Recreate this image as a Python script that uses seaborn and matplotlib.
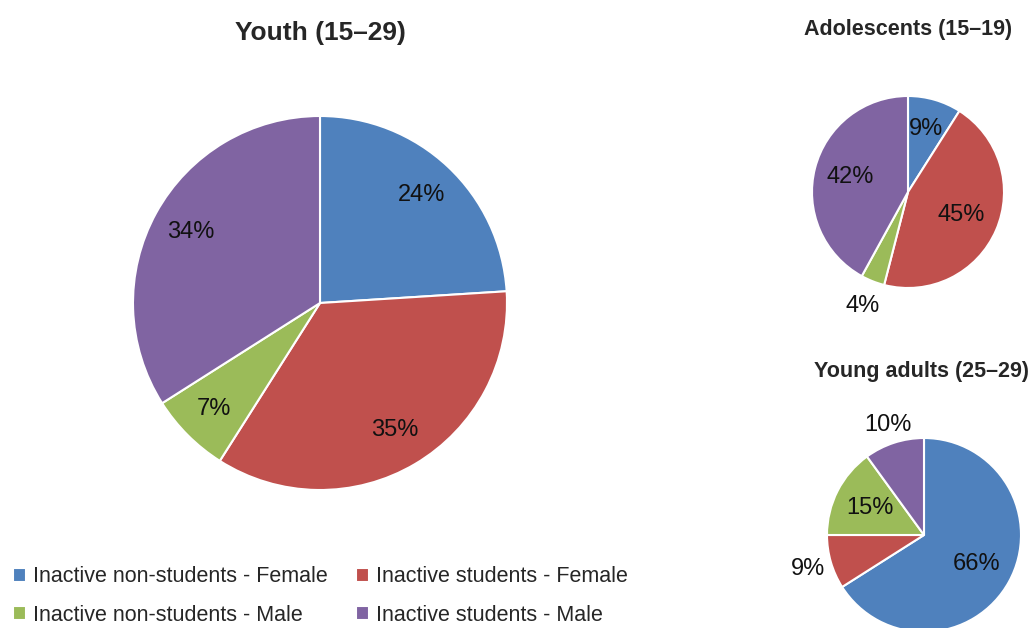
import matplotlib
matplotlib.use("Agg")
import matplotlib.pyplot as plt
import seaborn as sns
import numpy as np

###############################################################################
# DATA
###############################################################################
categories = [
    "Inactive non-students - Female",
    "Inactive students - Female",
    "Inactive non-students - Male",
    "Inactive students - Male",
]
youth = [24, 35, 7, 34]
adolescents = [9, 45, 4, 42]
young_adults = [66, 9, 15, 10]

###############################################################################
# STYLE
###############################################################################
sns.set_theme(style="white")
plt.rcParams["font.family"] = ["Liberation Sans Narrow", "Liberation Sans", "DejaVu Sans"]

colors = ["#4F81BD", "#C0504D", "#9BBB59", "#8064A2"]
W, H = 1035, 628

fig = plt.figure(figsize=(W / 100, H / 100), dpi=100)


def pie_axes(cx, cy, r):
    """Axes whose unit circle sits at pixel centre (cx, cy) with radius r."""
    ax = fig.add_axes([(cx - r) / W, (H - cy - r) / H, 2 * r / W, 2 * r / H])
    ax.axis("off")
    return ax


def draw_pie(ax, values, label_dist, fontsize):
    wedges, _ = ax.pie(values, colors=colors, startangle=90, counterclock=False,
                       radius=1, wedgeprops={"edgecolor": "white", "linewidth": 1.5})
    # pie() resets the limits, so fix them afterwards
    ax.set_xlim(-1, 1)
    ax.set_ylim(-1, 1)
    ax.set_aspect("equal")
    for w in wedges:
        w.set_clip_on(False)
    for w, v, d in zip(wedges, values, label_dist):
        ang = np.deg2rad((w.theta1 + w.theta2) / 2)
        ax.text(d * np.cos(ang), d * np.sin(ang), f"{v}%", ha="center", va="center",
                fontsize=fontsize, color="#111111", clip_on=False)
    return wedges


# main pie
ax1 = pie_axes(320, 303, 187)
wedges = draw_pie(ax1, youth, [0.79, 0.79, 0.8, 0.79], 17)
fig.text(320 / W, 1 - 33 / H, "Youth (15–29)", ha="center", va="center",
         fontsize=19, fontweight="bold")

# adolescents
ax2 = pie_axes(908, 192, 96)
draw_pie(ax2, adolescents, [0.68, 0.6, 1.28, 0.62], 17)
fig.text(908 / W, 1 - 30 / H, "Adolescents (15–19)", ha="center", va="center",
         fontsize=15.5, fontweight="bold")

# young adults
ax3 = pie_axes(924, 535, 97)
draw_pie(ax3, young_adults, [0.62, 1.25, 0.62, 1.19], 17)
fig.text(922 / W, 1 - 372 / H, "Young adults (25–29)", ha="center", va="center",
         fontsize=15.5, fontweight="bold")

# legend: column-wise fill -> blue, green | red, purple
order = [0, 2, 1, 3]
fig.legend([wedges[i] for i in order], [categories[i] for i in order],
           loc="lower left", bbox_to_anchor=(0.004, -0.01), ncol=2, frameon=False,
           fontsize=15.5, handlelength=0.6, handleheight=0.6, handletextpad=0.35,
           labelspacing=0.8, columnspacing=1.3, borderaxespad=0)

fig.savefig("out.png", dpi=100)
